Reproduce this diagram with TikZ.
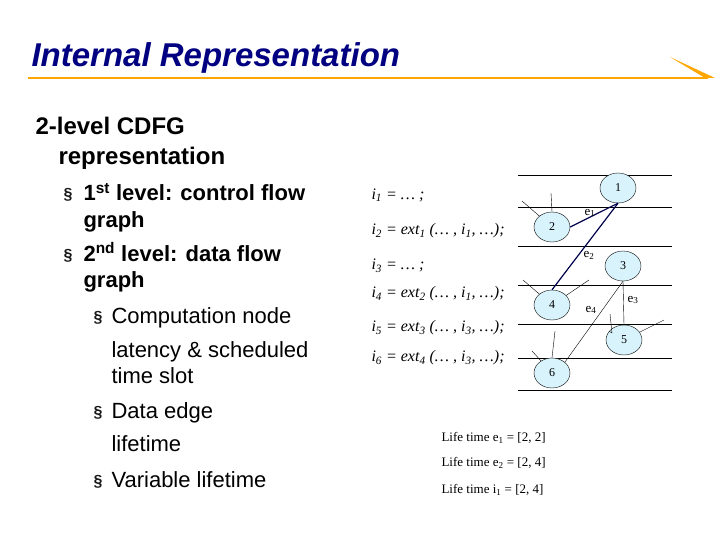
\documentclass[tikz,border=0pt]{standalone}
\usepackage{fontspec}
\setmainfont{Liberation Serif}
\setsansfont{Liberation Sans}
\usetikzlibrary{shapes.geometric}
\begin{document}
\begin{tikzpicture}[x=1pt,y=-1pt,
  nd/.style={ellipse,draw=black,fill=cyan!15,minimum width=36pt,minimum height=30pt,inner sep=0pt,font=\rmfamily\fontsize{12}{12}\selectfont},
  hl/.style={draw=black,line width=0.5pt},
  eb/.style={draw=blue!30!black,line width=1.2pt},
  el/.style={font=\rmfamily\fontsize{13}{13}\selectfont},
  cd/.style={anchor=west,font=\rmfamily\itshape\fontsize{16}{16}\selectfont},
  lt/.style={anchor=west,font=\rmfamily\fontsize{13}{13}\selectfont},
  b0/.style={anchor=base west,font=\sffamily\bfseries\fontsize{24}{24}\selectfont},
  b1/.style={anchor=base west,font=\sffamily\bfseries\fontsize{22}{22}\selectfont},
  b2/.style={anchor=base west,font=\sffamily\fontsize{22}{22}\selectfont},
  bu/.style={anchor=base west,font=\sffamily\bfseries\fontsize{16}{16}\selectfont,text=black!90}]
\useasboundingbox (0,0) rectangle (720,540);
% title
\node[anchor=base west,font=\sffamily\bfseries\itshape\fontsize{33}{33}\selectfont,text=blue!50!black] (title) at (28,67) {Internal Representation};
\draw[draw=orange!70!yellow,line width=1.5pt] (28,78) -- (708,78);
\fill[orange!70!yellow] (670,57) -- (715,78) -- (705,78) -- cycle;
% left text
\node[b0] (a1) at (32,135) {2-level CDFG};
\node[b0] (a2) at (55,165) {representation};
\node[bu] (s1) at (60,200) {\S};
\node[b1] (t1) at (80,201) {1\textsuperscript{st} level: control flow};
\node[b1] (t2) at (80,227) {graph};
\node[bu] (s2) at (60,260) {\S};
\node[b1] (t3) at (80,261) {2\textsuperscript{nd} level: data flow};
\node[b1] (t4) at (80,287) {graph};
\node[bu] (s3) at (90,322) {\S};
\node[b2] (t5) at (108,323) {Computation node};
\node[b2] (t6) at (108,357) {latency \& scheduled};
\node[b2] (t7) at (108,383) {time slot};
\node[bu] (s4) at (90,417) {\S};
\node[b2] (t8) at (108,418) {Data edge};
\node[b2] (t9) at (108,451) {lifetime};
\node[bu] (s5) at (90,486) {\S};
\node[b2] (t10) at (108,487) {Variable lifetime};
% code
\node[cd] (c1) at (368,195) {i\textsubscript{1} = … ;};
\node[cd] (c2) at (368,231) {i\textsubscript{2} = ext\textsubscript{1} (… , i\textsubscript{1}, …);};
\node[cd] (c3) at (368,266) {i\textsubscript{3} = … ;};
\node[cd] (c4) at (368,294) {i\textsubscript{4} = ext\textsubscript{2} (… , i\textsubscript{1}, …);};
\node[cd] (c5) at (368,328) {i\textsubscript{5} = ext\textsubscript{3} (… , i\textsubscript{3}, …);};
\node[cd] (c6) at (368,358) {i\textsubscript{6} = ext\textsubscript{4} (… , i\textsubscript{3}, …);};
% horizontal lines
\foreach \y in {175,207,246,285,324,358,390} \draw[hl] (518,\y) -- (672,\y);
% nodes
\node[nd] (n1) at (618,188) {1};
\node[nd] (n2) at (552,227) {2};
\node[nd] (n3) at (623,266) {3};
\node[nd] (n4) at (552,305) {4};
\node[nd] (n5) at (624,340) {5};
\node[nd] (n6) at (552,373) {6};
% stubs
\coordinate (p2a) at (522,201); \coordinate (p2b) at (551,193);
\coordinate (p4a) at (523,280); \coordinate (p4b) at (589,280);
\coordinate (p5a) at (610,314); \coordinate (p5b) at (664,320);
\coordinate (p6a) at (532,351); \coordinate (p6b) at (555,331);
\draw (p2a) -- (n2); \draw (p2b) -- (n2.north);
\draw (p4a) -- (n4); \draw (p4b) -- (n4);
\draw (p5a) -- (612,333) -- (n5); \draw (p5b) -- (n5);
\draw (p6a) -- (n6); \draw (p6b) -- (n6.north);
% edges
\draw[eb] (n2.east) -- (n1.south);
\draw[eb] (n1.south) -- (n4.north);
\draw (n3.south) -- (n5.north);
\draw (n3.south) -- (n6.north east);
\node[el] (e1) at (590,213) {e\textsubscript{1}};
\node[el] (e2) at (589,255) {e\textsubscript{2}};
\node[el] (e3) at (633,300) {e\textsubscript{3}};
\node[el] (e4) at (591,310) {e\textsubscript{4}};
% lifetimes
\node[lt] (l1) at (438,438) {Life time e\textsubscript{1} = [2, 2]};
\node[lt] (l2) at (438,463) {Life time e\textsubscript{2} = [2, 4]};
\node[lt] (l3) at (438,490) {Life time i\textsubscript{1} = [2, 4]};
\end{tikzpicture}
\end{document}
